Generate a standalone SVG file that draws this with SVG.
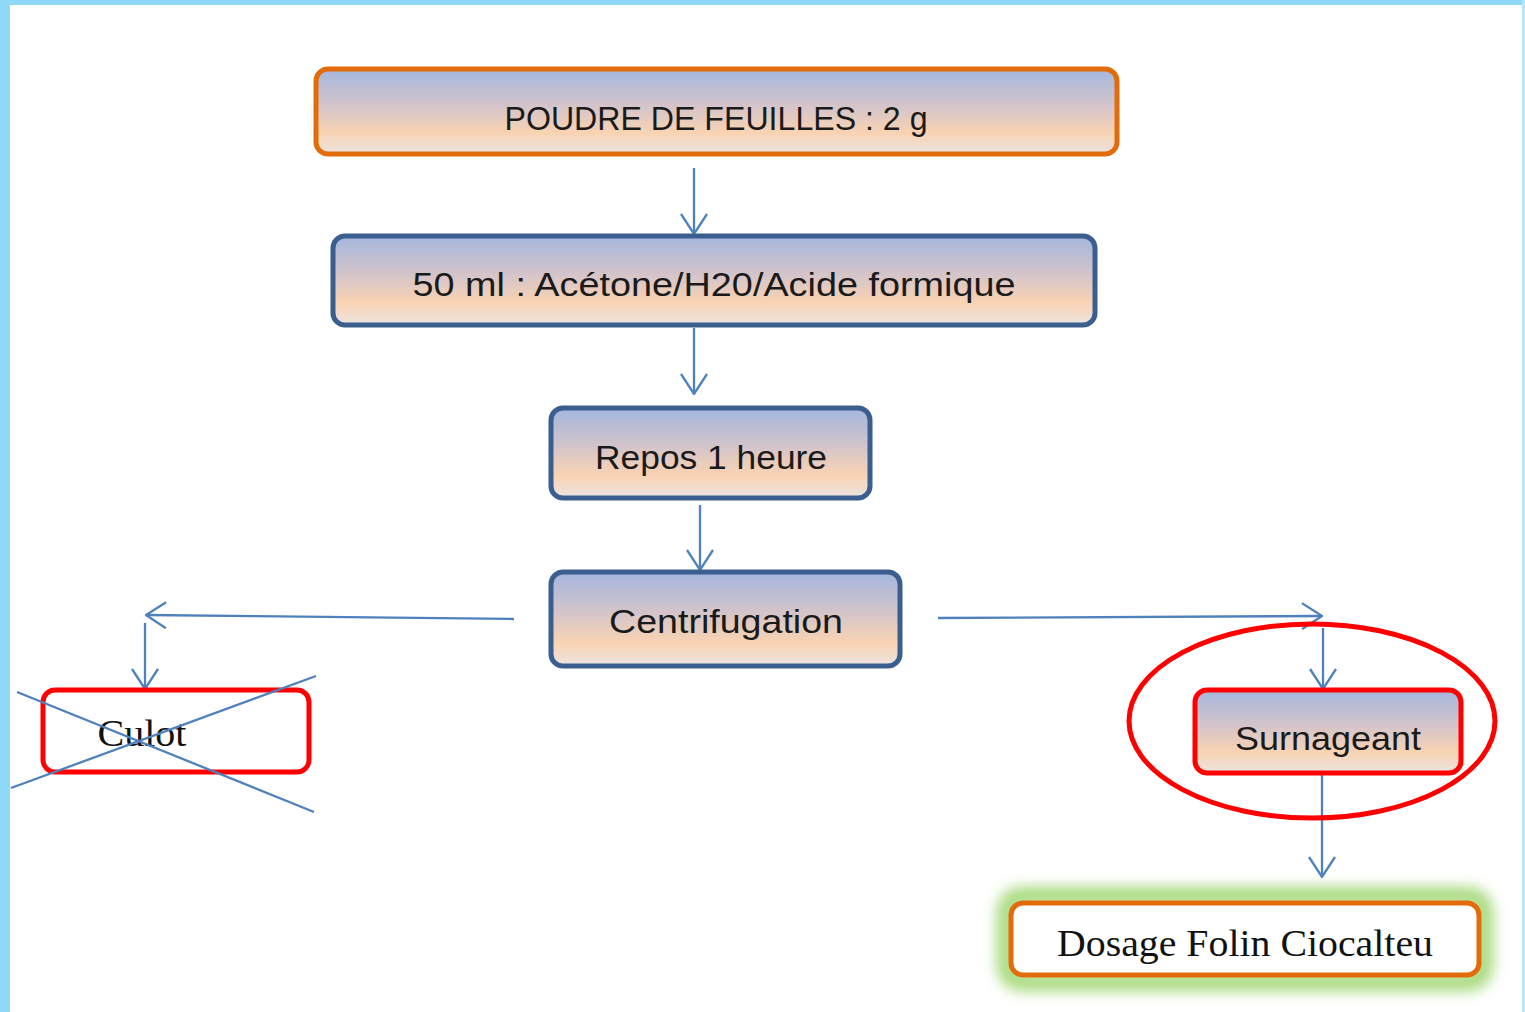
<svg xmlns="http://www.w3.org/2000/svg" width="1525" height="1012" viewBox="0 0 1525 1012">
<defs>
<style>
.box{stroke-width:5}
.orange{stroke:#e36c0a}
.blue{stroke:#3a5f8e}
.red{stroke:#ff0000}
.t{font-family:"Liberation Sans","Open Sans",sans-serif;font-size:34px;fill:#1a1a1a;text-anchor:middle}
.s{font-family:"Liberation Serif",serif;font-size:37px;fill:#111;text-anchor:middle}
.c{stroke:#4f81bd;stroke-width:2.3;fill:none}
</style>
<linearGradient id="g" x1="0" y1="0" x2="0" y2="1">
<stop offset="0" stop-color="#a3b6de"/>
<stop offset="0.45" stop-color="#d6c5c9"/>
<stop offset="0.75" stop-color="#f9d3b2"/>
<stop offset="1" stop-color="#ebe4e2"/>
</linearGradient>
<marker id="a" viewBox="-1 -1 22 28" refX="20" refY="13" markerWidth="22" markerHeight="28" markerUnits="userSpaceOnUse" orient="auto">
<path d="M0,0 L20,13 L0,26" fill="none" stroke="#4f81bd" stroke-width="2.3"/>
</marker>
<filter id="glow" x="-10%" y="-40%" width="120%" height="180%">
<feGaussianBlur stdDeviation="7"/>
</filter>
</defs>
<rect width="1525" height="1012" fill="#ffffff"/>
<rect x="0" y="0" width="1525" height="5" fill="#8ed9f7"/>
<rect x="0" y="0" width="10" height="1012" fill="#8ed9f7"/>
<rect x="1522" y="0" width="3" height="1012" fill="#b4e5f8"/>

<g id="connectors">
<line class="c" x1="694" y1="168" x2="694" y2="234" marker-end="url(#a)"/>
<line class="c" x1="694" y1="328" x2="694" y2="394" marker-end="url(#a)"/>
<line class="c" x1="700" y1="505" x2="700" y2="570" marker-end="url(#a)"/>
<line class="c" x1="514" y1="619" x2="146" y2="615" marker-end="url(#a)"/>
<line class="c" x1="145" y1="623" x2="145" y2="689" marker-end="url(#a)"/>
<line class="c" x1="938" y1="618" x2="1322" y2="616" marker-end="url(#a)"/>
<line class="c" x1="1323" y1="628" x2="1323" y2="689" marker-end="url(#a)"/>
<line class="c" x1="1322" y1="773" x2="1322" y2="877" marker-end="url(#a)"/>
</g>

<g id="n1">
<rect class="box orange" x="316" y="69" width="801" height="85" rx="12" fill="url(#g)"/>
<text class="t" x="716" y="130" textLength="423" lengthAdjust="spacingAndGlyphs">POUDRE DE FEUILLES : 2 g</text>
</g>
<g id="n2">
<rect class="box blue" x="333" y="236" width="762" height="89" rx="12" fill="url(#g)"/>
<text class="t" x="714" y="296" textLength="603" lengthAdjust="spacingAndGlyphs">50 ml : Acétone/H20/Acide formique</text>
</g>
<g id="n3">
<rect class="box blue" x="551" y="408" width="319" height="90" rx="12" fill="url(#g)"/>
<text class="t" x="711" y="469" textLength="232" lengthAdjust="spacingAndGlyphs">Repos 1 heure</text>
</g>
<g id="n4">
<rect class="box blue" x="551" y="572" width="349" height="94" rx="12" fill="url(#g)"/>
<text class="t" x="726" y="633" textLength="234" lengthAdjust="spacingAndGlyphs">Centrifugation</text>
</g>
<g id="n5">
<rect class="box red" x="43" y="690" width="266" height="82" rx="12" fill="#ffffff"/>
<text class="s" x="142" y="746" textLength="89" lengthAdjust="spacingAndGlyphs">Culot</text>
<line class="c" x1="17" y1="692" x2="314" y2="812"/>
<line class="c" x1="11" y1="788" x2="316" y2="676"/>
</g>
<g id="n6">
<rect class="box red" x="1195" y="690" width="266" height="83" rx="12" fill="url(#g)"/>
<text class="t" x="1328" y="750" textLength="186" lengthAdjust="spacingAndGlyphs">Surnageant</text>
<ellipse cx="1312" cy="721" rx="183" ry="97" fill="none" stroke="#ff0000" stroke-width="5"/>
</g>
<g id="n7">
<rect x="1006" y="896" width="478" height="86" rx="16" fill="none" stroke="#a6d97a" stroke-width="18" filter="url(#glow)"/>
<rect class="box orange" x="1011" y="903" width="468" height="72" rx="12" fill="#ffffff"/>
<text class="s" x="1245" y="956" textLength="376" lengthAdjust="spacingAndGlyphs">Dosage Folin Ciocalteu</text>
</g>
</svg>
